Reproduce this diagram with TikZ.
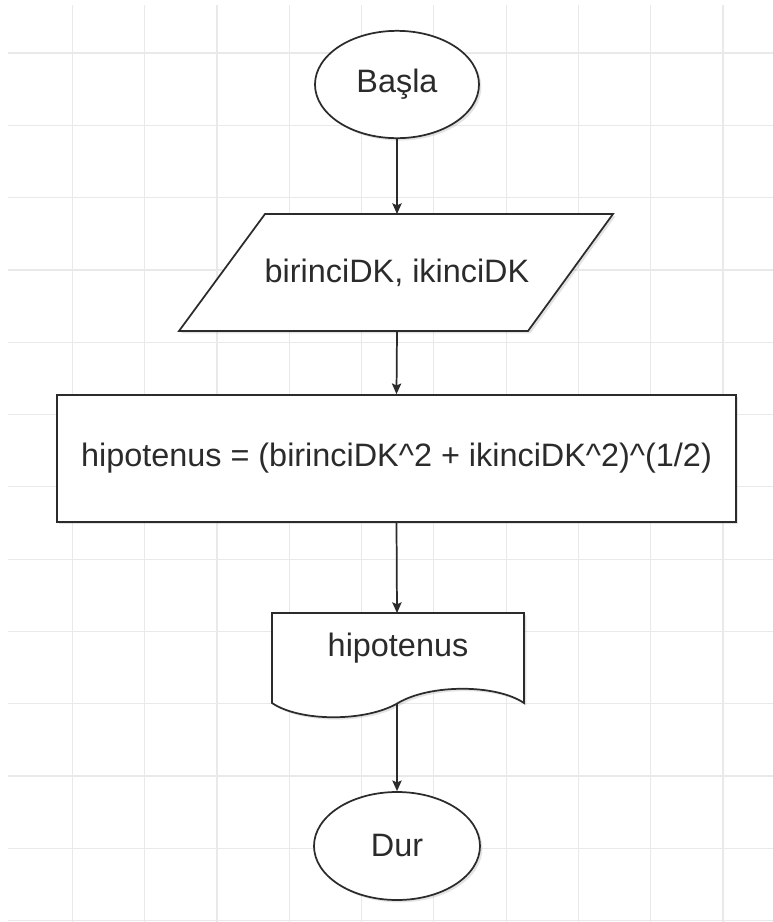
\documentclass[tikz,border=0pt]{standalone}
\usepackage{fontspec}
\setmainfont{Liberation Sans}
\usepackage{tikz}
\usetikzlibrary{shapes.geometric, arrows.meta}
\usetikzlibrary{shadows}
\usetikzlibrary{positioning}
\definecolor{gridgray}{HTML}{E9E9E9}
\definecolor{inkgray}{HTML}{2B2B2B}

\begin{document}
\begin{tikzpicture}[x=0.75pt,y=0.75pt,yscale=-1,xscale=1]
  \tikzstyle{arrow} = [line width=1.3pt,draw=inkgray,-{Stealth[length=8pt,width=7pt,inset=1.5pt]}]
  \tikzstyle{gridline} = [line width=0.9pt,draw=gridgray]
  \tikzstyle{box} = [draw=inkgray,fill=white,line width=1.3pt,
     drop shadow={shadow xshift=1.8pt,shadow yshift=-1.8pt,opacity=0.22}]
  \tikzstyle{txt} = [inner sep=0.75pt,text=inkgray,font=\fontsize{24.3}{29}\selectfont]
  %Draw the page and the grid behind
  \useasboundingbox (0,0) rectangle (773,922);
  \fill[white] (0,0) rectangle (773,922);
  \foreach \i in {1,...,10}
    \draw[gridline] ({72.3*\i},5) -- ({72.3*\i},922);
  \foreach \j in {0,...,12}
    \draw[gridline] (8,{53+72.3*\j}) -- (773,{53+72.3*\j});
  %Draw start and stop
  \node[box,txt,ellipse,minimum width=123pt,minimum height=80.5pt] (start) at (397,84.5) {Başla};
  \node[box,txt,ellipse,minimum width=124.5pt,minimum height=81pt] (stop) at (397,846) {Dur};
  %Draw the input
  \draw[box] (265,214) -- (613,214) -- (528,331) -- (179,331) -- cycle;
  \node[txt] (inp) at (397,272.5) {birinciDK, ikinciDK};
  \coordinate (inpN) at (397,214);
  \coordinate (inpS) at (397,331);
  %Draw the process
  \node[box,txt,rectangle,minimum width=509.25pt,minimum height=95.25pt] (calc) at (396.5,458.5)
     {hipotenus = (birinciDK\textasciicircum2 + ikinciDK\textasciicircum2)\textasciicircum(1/2)};
  %Draw the output
  \draw[box] (272,613) -- (524,613) -- (524,703)
     .. controls (496,684) and (430,684) .. (398,703)
     .. controls (366,722) and (300,722) .. (272,703) -- cycle;
  \node[txt] (out) at (398,648) {hipotenus};
  \coordinate (outN) at (397,613);
  \coordinate (outS) at (397,703);
  % Draw the arrows
  \draw [arrow] (start.south) -- (inpN);
  \draw [arrow] (inpS) -- (calc.north);
  \draw [arrow] (calc.south) -- (outN);
  \draw [arrow] (outS) -- (stop.north);
\end{tikzpicture}
\end{document}
